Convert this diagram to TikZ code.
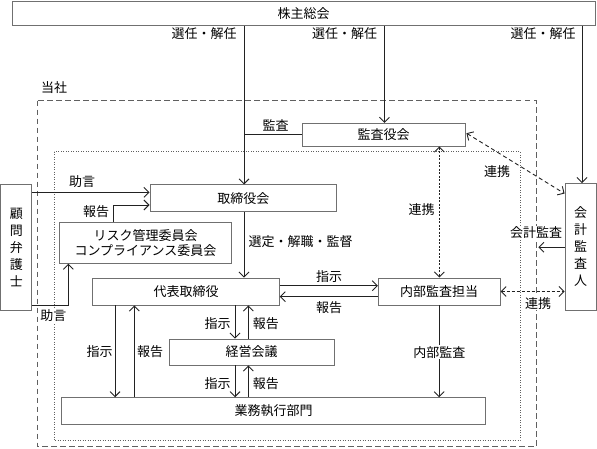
\documentclass[tikz,border=0pt]{standalone}
\usepackage{fontspec}
\setmainfont{Noto Sans CJK JP}
\usetikzlibrary{arrows.meta}
\definecolor{boxgray}{HTML}{707070}
\definecolor{linec}{HTML}{222222}
\definecolor{framec}{HTML}{606060}
\begin{document}
\begin{tikzpicture}[x=1bp,y=-1bp,
  every node/.style={font=\fontsize{13bp}{17bp}\selectfont, inner sep=0pt, text=black},
  box/.style={draw=boxgray, line width=0.9bp, fill=white, rectangle},
  lab/.style={fill=white, inner sep=1bp},
  conn/.style={draw=linec, line width=0.9bp},
  >={Straight Barb[length=5bp,width=10bp]},
  outerframe/.style={draw=framec, line width=0.9bp, dash pattern=on 5.5bp off 3.5bp},
  innerframe/.style={draw=framec, line width=0.9bp, dash pattern=on 1bp off 1.5bp},
  dashlink/.style={conn, dash pattern=on 4bp off 3bp},
  dashlinkb/.style={conn, dash pattern=on 3bp off 2bp},
  dotlink/.style={conn, dash pattern=on 2bp off 1.5bp}
]
\useasboundingbox (0,0) rectangle (597,449);

% frames
\draw[outerframe] (37,100.7) rectangle (536,446.7);
\draw[innerframe] (54,151.7) rectangle (520,440.7);
\node (tosha) at (54,88) {当社};

% boxes
\node[box, minimum width=583bp, minimum height=23.5bp] (kabu) at (303.5,13.5) {株主総会};
\node[box, minimum width=163bp, minimum height=22.7bp] (kansa) at (383.5,134.7) {監査役会};
\node[box, minimum width=186.7bp, minimum height=26.7bp] (tori) at (243.3,198.3) {取締役会};
\node[box, minimum width=172.4bp, minimum height=41bp, align=center] (risk) at (145.5,242.8) {リスク管理委員会\\[-2bp]コンプライアンス委員会};
\node[box, minimum width=186.6bp, minimum height=27bp] (daihyo) at (186,291.5) {代表取締役};
\node[box, minimum width=121.7bp, minimum height=27bp] (naibu) at (439.2,291.5) {内部監査担当};
\node[box, minimum width=164.7bp, minimum height=26bp] (keiei) at (251.7,352) {経営会議};
\node[box, minimum width=424bp, minimum height=26.6bp] (gyomu) at (273.7,411) {業務執行部門};
\node[box, minimum width=30.7bp, minimum height=126.5bp, align=center] (komon) at (16.3,247.3) {顧\\問\\弁\\護\\士};
\node[box, minimum width=31bp, minimum height=127bp, align=center] (kaikei) at (580.5,247) {会\\計\\監\\査\\人};

% helper coordinates
\coordinate (xA) at (244,0);
\coordinate (xK) at (384.4,0);
\coordinate (xL) at (582,0);
\coordinate (y192) at (0,192.3);
\coordinate (y205) at (0,205);
\coordinate (x113) at (113.3,0);
\coordinate (y305) at (0,305.7);
\coordinate (x68) at (68.3,0);
\coordinate (yS) at (0,285.7);
\coordinate (yH) at (0,296.7);
\coordinate (x439) at (439.3,0);
\coordinate (xg1) at (115,0);
\coordinate (xg2) at (134.3,0);
\coordinate (xk1) at (235,0);
\coordinate (xk2) at (248.3,0);
\coordinate (y247) at (0,247.3);
\coordinate (kaEnd) at (538.3,247.3);

% connectors from 株主総会
\draw[conn,->] (kabu.south -| xA) -- (tori.north -| xA);
\draw[conn,->] (kabu.south -| xK) -- (kansa.north -| xK);
\draw[conn,->] (kabu.south -| xL) -- (kaikei.north -| xL);
\draw[conn] (kansa.west -| xA) -- (kansa.west);

% 顧問弁護士
\draw[conn,->] (komon.east |- y192) -- (tori.west |- y192);
\draw[conn,->] (komon.east |- y305) -| (risk.south -| x68);
% リスク -> 取締役会
\draw[conn,->] (risk.north -| x113) |- (tori.west |- y205);
% 取締役会 -> 代表取締役
\draw[conn,->] (tori.south -| xA) -- (daihyo.north -| xA);
% 代表取締役 <-> 内部監査担当
\draw[conn,->] (daihyo.east |- yS) -- (naibu.west |- yS);
\draw[conn,->] (naibu.west |- yH) -- (daihyo.east |- yH);
% 監査役会 <-> 内部監査担当
\draw[dotlink,<->] (kansa.south -| x439) -- (naibu.north -| x439);
% 監査役会 <-> 会計監査人
\draw[dashlink,<->] ([xshift=1bp,yshift=1.5bp]kansa.east) -- ([yshift=-10.5bp]kaikei.north west);
% 内部監査担当 <-> 会計監査人
\draw[dashlinkb,<->] (naibu.east) -- (kaikei.west |- naibu.east);
% 会計監査
\draw[conn,->] (kaikei.west |- y247) -- (kaEnd);
% 内部監査
\draw[conn,->] (naibu.south) -- (gyomu.north -| naibu.south);
% 代表取締役 <-> 業務執行部門
\draw[conn,->] (daihyo.south -| xg1) -- (gyomu.north -| xg1);
\draw[conn,->] (gyomu.north -| xg2) -- (daihyo.south -| xg2);
% 代表取締役 <-> 経営会議
\draw[conn,->] (daihyo.south -| xk1) -- (keiei.north -| xk1);
\draw[conn,->] (keiei.north -| xk2) -- (daihyo.south -| xk2);
% 経営会議 <-> 業務執行部門
\draw[conn,->] (keiei.south -| xk1) -- (gyomu.north -| xk1);
\draw[conn,->] (gyomu.north -| xk2) -- (keiei.south -| xk2);

% labels
\node[lab] (l1) at (204,34) {選任・解任};
\node[lab] (l2) at (344.5,34) {選任・解任};
\node[lab] (l3) at (543,34) {選任・解任};
\node[lab] (l4) at (275.5,125) {監査};
\node[lab] (l5) at (82,181.7) {助言};
\node[lab] (l6) at (96,212) {報告};
\node[lab] (l7) at (53.3,315.7) {助言};
\node[lab, anchor=west] (l8) at (247.5,242) {選定・解職・監督};
\node[lab] (l9) at (329,276.7) {指示};
\node[lab] (l10) at (329,308) {報告};
\node[lab] (l11) at (421.7,210) {連携};
\node[lab] (l12) at (497,171.7) {連携};
\node[lab] (l13) at (536,233) {会計監査};
\node[lab] (l14) at (538,303.3) {連携};
\node[lab] (l15) at (439.3,352.3) {内部監査};
\node[lab] (l16) at (99.5,351.7) {指示};
\node[lab] (l17) at (150,351.7) {報告};
\node[lab] (l18) at (217.5,323.3) {指示};
\node[lab] (l19) at (265.8,323.3) {報告};
\node[lab] (l20) at (217.5,383.3) {指示};
\node[lab] (l21) at (265.8,383.3) {報告};
\end{tikzpicture}
\end{document}
